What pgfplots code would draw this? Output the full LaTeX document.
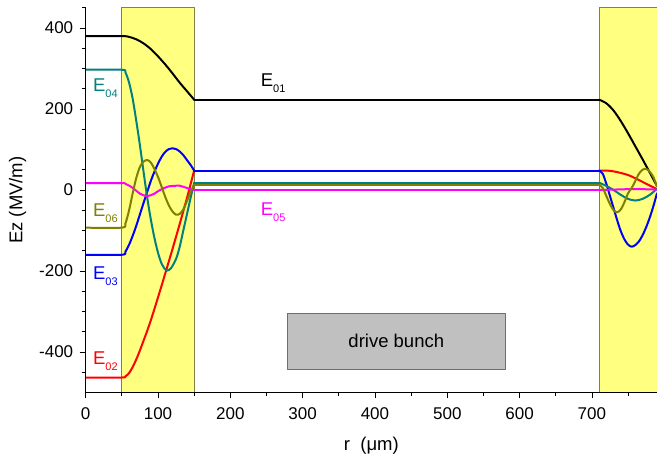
\documentclass[border=0pt]{standalone}
\usepackage{fontspec}
\setmainfont{Liberation Sans}
\usepackage{pgfplots}
\pgfplotsset{compat=1.18}

\definecolor{cteal}{RGB}{0,128,128}
\definecolor{colive}{RGB}{128,128,0}
\definecolor{cmag}{RGB}{255,0,255}
\definecolor{cred}{RGB}{255,0,0}
\definecolor{cblue}{RGB}{0,0,255}
\definecolor{cyel}{RGB}{255,255,128}
\definecolor{cyeledge}{RGB}{128,128,72}
\definecolor{cbunch}{RGB}{192,192,192}
\definecolor{cbunchedge}{RGB}{110,110,110}

% mode label: E with a lowered index
\newcommand{\Elab}[1]{E\raisebox{-6pt}{\fontsize{11}{11}\selectfont #1}}

\begin{document}
\begin{tikzpicture}
\begin{axis}[
  scale only axis, width=571.3pt, height=384.75pt,
  xmin=0, xmax=790, ymin=-500, ymax=450,
  axis x line*=bottom, axis y line*=left,
  axis line style={-, line width=0.8pt},
  axis on top,
  xtick={0,100,...,700}, minor xtick={50,150,...,750},
  ytick={-400,-200,...,400},
  minor ytick={-450,-350,-300,-250,-150,-100,-50,50,100,150,250,300,350,450},
  tick align=outside, major tick length=6pt, minor tick length=3.5pt,
  every tick/.style={black, line width=0.8pt},
  /pgf/number format/assume math mode=true,
  ticklabel style={font=\fontsize{17}{17}\selectfont},
  xticklabel style={yshift=-6pt},
  yticklabel style={xshift=-3pt},
  xlabel={r\ \ (μm)}, ylabel={Ez (MV/m)},
  label style={font=\fontsize{18.5}{18.5}\selectfont},
  xlabel style={at={(axis description cs:0.5,-0.138)}, anchor=center},
  ylabel style={at={(axis description cs:-0.119,0.5)}, anchor=center},
  every axis plot/.append style={line width=2pt, line join=round, line cap=round},
]

% dielectric layers
\addplot[fill=cyel, draw=cyeledge, line width=0.8pt] coordinates
  {(50,-500) (150,-500) (150,450) (50,450) (50,-500)};
\addplot[fill=cyel, draw=cyeledge, line width=0.8pt] coordinates
  {(710,-500) (790,-500) (790,450) (710,450) (710,-500)};

% drive bunch
\addplot[fill=cbunch, draw=cbunchedge, line width=0.8pt] coordinates
  {(279,-442) (580,-442) (580,-304) (279,-304) (279,-442)};
\node[font=\fontsize{18.5}{18.5}\selectfont] at (axis cs:429.5,-373) {drive bunch};

% ---- E01 ----
\addplot[black, smooth] coordinates {(0,380) (50,380) (60,378) (70,372) (80,362) (90,348) (100,330) (110,310) (120,288) (130,265) (140,244) (150,223)};
\addplot[black] coordinates {(150,223) (710,223)};
\addplot[black, smooth] coordinates {(710,223) (720,214) (730,196) (740,170) (750,140) (760,108) (770,76) (780,43) (790,10)};

% ---- E02 ----
\addplot[cred, smooth] coordinates {(0,-463) (50,-463) (55,-460) (60,-452) (65,-437) (70,-418) (75,-396) (80,-372) (85,-348) (90,-322) (95,-294) (100,-265) (105,-236) (110,-206) (115,-176) (120,-146) (125,-115) (130,-84) (135,-52) (140,-20) (145,14) (150,48)};
\addplot[cred] coordinates {(150,48) (710,48)};
\addplot[cred, smooth] coordinates {(710,48) (720,48) (730,46) (740,42) (750,37) (760,29) (770,20) (780,11) (790,2)};

% ---- E03 ----
\addplot[cblue, smooth] coordinates {(0,-160) (50,-160) (55,-152) (60,-135) (65,-113) (70,-88) (75,-60) (80,-32) (85,-5) (90,22) (95,45) (100,65) (105,82) (110,94) (115,101) (120,103) (125,101) (130,95) (135,86) (140,74) (145,62) (150,48)};
\addplot[cblue] coordinates {(150,48) (710,48)};
\addplot[cblue, smooth] coordinates {(710,48) (715,40) (720,15) (725,-15) (730,-45) (735,-75) (740,-102) (745,-122) (750,-135) (755,-140) (760,-136) (765,-127) (770,-112) (775,-92) (780,-68) (785,-40) (790,-8)};

% ---- E04 ----
\addplot[cteal, smooth] coordinates {(0,297) (50,297) (55,290) (60,265) (65,225) (70,170) (75,110) (80,45) (85,-18) (90,-72) (95,-118) (100,-155) (105,-182) (110,-196) (113,-199) (118,-193) (125,-170) (130,-140) (135,-100) (140,-60) (145,-20) (150,18)};
\addplot[cteal] coordinates {(150,18) (710,18)};
\addplot[cteal, smooth] coordinates {(710,18) (720,10) (730,0) (740,-12) (750,-22) (760,-26) (770,-22) (780,-12) (790,3)};

% ---- E05 ----
\addplot[cmag, smooth] coordinates {(0,17) (50,17) (55,15) (60,11) (65,5) (70,-2) (75,-9) (80,-13) (85,-15) (90,-13) (95,-9) (100,-3) (105,2) (110,6) (115,9) (120,10) (125,10.5) (130,10.5) (135,8) (140,5) (145,2) (150,0)};
\addplot[cmag] coordinates {(150,0) (710,0)};
\addplot[cmag, smooth] coordinates {(710,0) (730,1) (750,2) (770,2) (790,1)};

% ---- E06 ----
\addplot[colive, smooth] coordinates {(0,-93) (50,-93) (55,-82) (60,-50) (65,-8) (70,30) (75,57) (80,70) (85,74) (90,68) (95,52) (100,32) (105,8) (110,-17) (115,-38) (120,-53) (125,-61) (130,-59) (135,-48) (140,-28) (145,-5) (150,13)};
\addplot[colive] coordinates {(150,13) (710,13)};
\addplot[colive, smooth] coordinates {(710,13) (715,5) (720,-15) (725,-35) (730,-50) (735,-55) (740,-48) (745,-30) (750,-8) (755,5) (760,22) (765,40) (770,50) (775,52) (780,45) (785,32) (790,8)};

% mode labels
\node[anchor=base west, inner sep=0pt, text=black, font=\fontsize{18.5}{18.5}\selectfont] at (axis cs:242,255) {\Elab{01}};
\node[anchor=base west, inner sep=0pt, text=cmag, font=\fontsize{18.5}{18.5}\selectfont] at (axis cs:242,-62) {\Elab{05}};
\node[anchor=base west, inner sep=0pt, text=cteal, font=\fontsize{18.5}{18.5}\selectfont] at (axis cs:10,243) {\Elab{04}};
\node[anchor=base west, inner sep=0pt, text=colive, font=\fontsize{18.5}{18.5}\selectfont] at (axis cs:10,-66) {\Elab{06}};
\node[anchor=base west, inner sep=0pt, text=cblue, font=\fontsize{18.5}{18.5}\selectfont] at (axis cs:10,-222) {\Elab{03}};
\node[anchor=base west, inner sep=0pt, text=cred, font=\fontsize{18.5}{18.5}\selectfont] at (axis cs:10,-432) {\Elab{02}};
\end{axis}
\pgfresetboundingbox
\path (-85.7pt,-61.5pt) rectangle (571.3pt,392.5pt);
\end{tikzpicture}
\end{document}
